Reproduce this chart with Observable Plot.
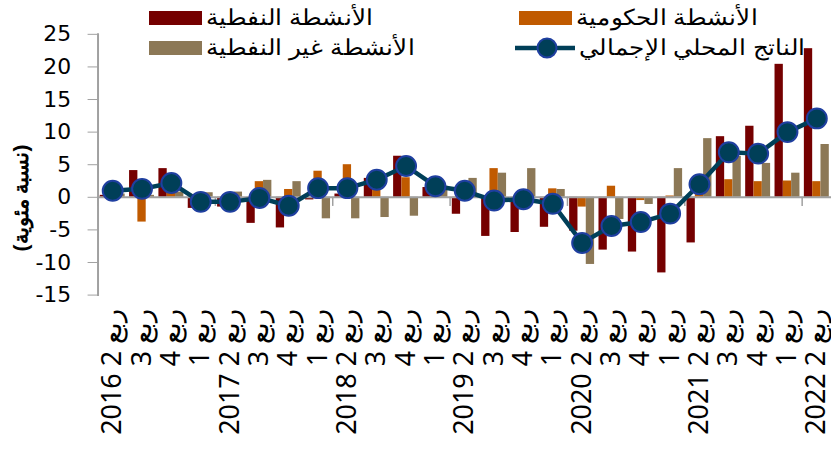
<!DOCTYPE html>
<html><head><meta charset="utf-8">
<script src="https://cdn.jsdelivr.net/npm/d3@7"></script>
<script src="https://cdn.jsdelivr.net/npm/@observablehq/plot@0.6"></script>
<style>
html,body{margin:0;padding:0;background:#fff;}
body{width:831px;height:463px;overflow:hidden;position:relative;font-family:"Liberation Sans",Arial,sans-serif;}
#chart{position:absolute;left:0;top:0;}
.lg{position:absolute;display:flex;align-items:center;font-size:21.5px;color:#000;white-space:nowrap;height:28px;}
.lg span{display:inline-block;transform:scaleX(1.12);transform-origin:left center;}
.sw{width:53px;height:14px;margin-right:4px;}
#ytitle{position:absolute;left:21px;top:198px;transform:translate(-50%,-50%) rotate(-90deg);font-weight:bold;font-size:21px;white-space:nowrap;}
</style></head><body>
<div id="chart"></div>
<div id="legend"></div>
<div id="ytitle">(نسبة مئوية)</div>
<script>
// Quarters (2016 Q2 .. 2022 Q2)
const years    = [2016,2016,2016,2017,2017,2017,2017,2018,2018,2018,2018,2019,2019,2019,2019,2020,2020,2020,2020,2021,2021,2021,2021,2022,2022];
const quarters = [2,3,4,1,2,3,4,1,2,3,4,1,2,3,4,1,2,3,4,1,2,3,4,1,2];
const quarterWord = "ربع";
// Series values (% y/y)
const oil    = [0.3, 4.1, 4.4, -1.7, -1.5, -4.0, -4.7, -0.4, 0.5, 2.9, 6.3, 1.5, -2.6, -6.0, -5.4, -4.6, -5.2, -8.1, -8.4, -11.6, -7.0, 9.3, 10.9, 20.4, 22.8];
const gov    = [0.3, -3.8, 0.8, 0.3, 0.3, 2.4, 1.2, 4.0, 5.0, 1.5, 3.0, 1.0, 0.5, 4.4, 0.3, 1.3, -1.5, 1.7, -0.5, 0.2, 0.5, 2.7, 2.4, 2.5, 2.4];
const nonoil = [0.5, 0.3, 0.8, 0.7, 0.8, 2.6, 2.4, -3.3, -3.3, -3.1, -2.9, 1.7, 2.9, 3.7, 4.4, 1.2, -10.3, -3.4, -1.1, 4.4, 9.0, 6.3, 5.2, 3.7, 8.1];
const gdp    = [1.0, 1.3, 2.2, -0.7, -0.7, -0.1, -1.3, 1.4, 1.4, 2.7, 4.8, 1.7, 1.0, -0.5, -0.3, -1.0, -7.0, -4.4, -3.8, -2.5, 2.0, 6.9, 6.7, 10.0, 12.1];
const yTicks = [-15,-10,-5,0,5,10,15,20,25];
const seriesNames = ["الأنشطة النفطية","الأنشطة الحكومية","الأنشطة غير النفطية"];
const gdpName = "الناتج المحلي الإجمالي";
const colors = ["#750000","#c05a00","#8c7856"];
const lineColor = "#003f58";
const dotStroke = "#1f3fa0";
const gray = "#a0a0a0";

const idx = d3.range(years.length);
const labels = idx.map(i => (quarters[i] === 2 ? years[i] + " " : "") + quarters[i] + " " + quarterWord);

const groupW = 0.85, barW = groupW / 3;
const bars = [];
[oil, gov, nonoil].forEach((s, k) => idx.forEach(i => bars.push({i, k, v: s[i]})));
const gdpData = idx.map(i => ({i, v: gdp[i]}));
const q2 = idx.filter(i => quarters[i] === 2);

const chart = Plot.plot({
  width: 835, height: 463,
  marginLeft: 98, marginRight: 0, marginTop: 34, marginBottom: 167,
  x: {type: "linear", domain: [-0.5, years.length - 0.5]},
  y: {domain: [-15, 25]},
  style: {background: "white", overflow: "visible"},
  marks: [
    Plot.rectY(bars, {x1: d => d.i - groupW/2 + d.k*barW, x2: d => d.i - groupW/2 + (d.k+1)*barW, y1: 0, y2: "v", fill: d => colors[d.k]}),
    Plot.ruleY([0], {stroke: gray, strokeWidth: 2}),
    Plot.ruleX(q2, {x: i => i - 0.5, y1: 0, y2: -1.4, stroke: gray, strokeWidth: 1.5}),
    Plot.frame({anchor: "left", stroke: gray, strokeWidth: 2}),
    Plot.axisY({ticks: yTicks, tickFormat: d => d < 0 ? "-" + Math.abs(d) : String(d), tickSize: 10, tickPadding: 17, stroke: gray, fill: "#000", fontSize: 22, fontFamily: "DejaVu Sans", label: null}),
    Plot.axisX({ticks: idx, tickFormat: i => labels[i], tickSize: 0, tickPadding: 14, tickRotate: -90, fill: "#000", fontSize: 27, label: null}),
    Plot.line(gdpData, {x: "i", y: "v", stroke: lineColor, strokeWidth: 4.5}),
    Plot.dot(gdpData, {x: "i", y: "v", r: 10, fill: lineColor, stroke: dotStroke, strokeWidth: 2})
  ]
});
document.getElementById("chart").appendChild(chart);

// Legend
const lg = document.getElementById("legend");
const items = [
  {name: seriesNames[0], color: colors[0], left: 149, top: 4},
  {name: seriesNames[1], color: colors[1], left: 519, top: 4},
  {name: seriesNames[2], color: colors[2], left: 149, top: 34},
  {name: gdpName, line: true, left: 515, top: 34}
];
items.forEach(it => {
  const d = document.createElement("div");
  d.className = "lg";
  d.style.left = it.left + "px";
  d.style.top = it.top + "px";
  if (it.line) {
    d.innerHTML = `<svg width="60" height="24" style="margin-right:4px"><line x1="0" y1="12" x2="60" y2="12" stroke="${lineColor}" stroke-width="4.5"/><circle cx="32" cy="12" r="9.5" fill="${lineColor}" stroke="${dotStroke}" stroke-width="2"/></svg><span>${it.name}</span>`;
  } else {
    d.innerHTML = `<div class="sw" style="background:${it.color}"></div><span>${it.name}</span>`;
  }
  lg.appendChild(d);
});
</script>
</body></html>
